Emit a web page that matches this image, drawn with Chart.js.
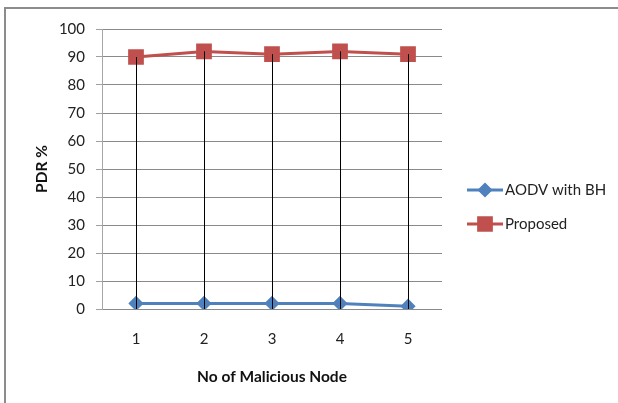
<!DOCTYPE html>
<html>
<head>
<meta charset="utf-8">
<script src="https://cdn.jsdelivr.net/npm/chart.js@4.4.1/dist/chart.umd.min.js"></script>
<style>
  html, body { margin: 0; padding: 0; background: #fff; }
  canvas { display: block; }
</style>
</head>
<body>
<canvas id="pdr" width="618" height="403"></canvas>
<script>
// Number of malicious nodes on the x axis
const categories = ['1', '2', '3', '4', '5'];
// Packet delivery ratio (%) per scheme
const aodvWithBH = [2, 2, 2, 2, 1];
const proposed = [90, 92, 91, 92, 91];
const yTicks = [0, 10, 20, 30, 40, 50, 60, 70, 80, 90, 100];

const seriesNames = ['AODV with BH', 'Proposed'];
const blue = '#4F81BD';
const red = '#C0504D';
const FONT = 'Lato, "Open Sans", "DejaVu Sans", sans-serif';

// Outer frame, vertical drop lines and the side legend
const extras = {
  id: 'extras',
  beforeDraw(chart) {
    const ctx = chart.ctx;
    ctx.save();
    ctx.fillStyle = '#fff';
    ctx.fillRect(0, 0, chart.width, chart.height);
    ctx.strokeStyle = '#8c8c8c';
    ctx.lineWidth = 2;
    ctx.strokeRect(5, 8, chart.width + 20, chart.height + 20);
    ctx.restore();
  },
  afterDatasetsDraw(chart) {
    const ctx = chart.ctx;
    const x = chart.scales.x, y = chart.scales.y;
    ctx.save();
    ctx.strokeStyle = '#000';
    ctx.lineWidth = 1;
    categories.forEach((c, i) => {
      const px = Math.round(x.getPixelForValue(i)) + 0.5;
      const top = Math.max(aodvWithBH[i], proposed[i]);
      ctx.beginPath();
      ctx.moveTo(px, y.getPixelForValue(top));
      ctx.lineTo(px, y.getPixelForValue(0));
      ctx.stroke();
    });
    ctx.restore();
  },
  afterDraw(chart) {
    const ctx = chart.ctx;
    const items = [
      { text: seriesNames[0], color: blue, style: 'rectRot', r: 5.5, y: 190 },
      { text: seriesNames[1], color: red, style: 'rect', r: 9, y: 224 }
    ];
    ctx.save();
    items.forEach(it => {
      ctx.strokeStyle = it.color;
      ctx.lineWidth = 3;
      ctx.beginPath();
      ctx.moveTo(467, it.y);
      ctx.lineTo(503, it.y);
      ctx.stroke();
      ctx.fillStyle = it.color;
      Chart.helpers.drawPoint(ctx, { pointStyle: it.style, radius: it.r, borderWidth: 1 }, 485, it.y);
      ctx.fill();
      ctx.fillStyle = '#222';
      ctx.font = '15px ' + FONT;
      ctx.textBaseline = 'middle';
      ctx.textAlign = 'left';
      ctx.fillText(it.text, 505, it.y);
    });
    ctx.restore();
  }
};

new Chart(document.getElementById('pdr'), {
  type: 'line',
  data: {
    labels: categories,
    datasets: [
      {
        label: seriesNames[0],
        data: aodvWithBH,
        borderColor: blue,
        backgroundColor: blue,
        borderWidth: 3,
        pointStyle: 'rectRot',
        pointRadius: 5.5,
        pointHoverRadius: 5.5,
        tension: 0
      },
      {
        label: seriesNames[1],
        data: proposed,
        borderColor: red,
        backgroundColor: red,
        borderWidth: 3,
        pointStyle: 'rect',
        pointRadius: 9,
        pointHoverRadius: 9,
        tension: 0
      }
    ]
  },
  options: {
    responsive: false,
    devicePixelRatio: 1,
    animation: false,
    layout: { padding: { left: 0, top: 29, right: 176, bottom: 0 } },
    plugins: { legend: { display: false }, tooltip: { enabled: false } },
    scales: {
      x: {
        offset: true,
        grid: { display: false, drawTicks: false },
        border: { display: false },
        ticks: { color: '#222', font: { family: FONT, size: 15 }, padding: 21 },
        title: {
          display: true,
          text: 'No of Malicious Node',
          color: '#111',
          font: { family: FONT, size: 15.5, weight: 'bold' },
          padding: { top: 0, bottom: 17 }
        },
        afterFit(s) { s.height = 94; }
      },
      y: {
        min: 0,
        max: 100,
        afterBuildTicks(s) { s.ticks = yTicks.map(v => ({ value: v })); },
        grid: { color: '#8a8a8a', tickLength: 6, tickColor: '#a0a0a0' },
        border: { color: '#a6a6a6' },
        ticks: { color: '#222', font: { family: FONT, size: 15 }, padding: 11 },
        title: {
          display: true,
          text: 'PDR %',
          color: '#111',
          font: { family: FONT, size: 15.5, weight: 'bold' },
          padding: { top: 33, bottom: 0 }
        },
        afterFit(s) { s.width = 102; }
      }
    }
  },
  plugins: [extras]
});
</script>
</body>
</html>
